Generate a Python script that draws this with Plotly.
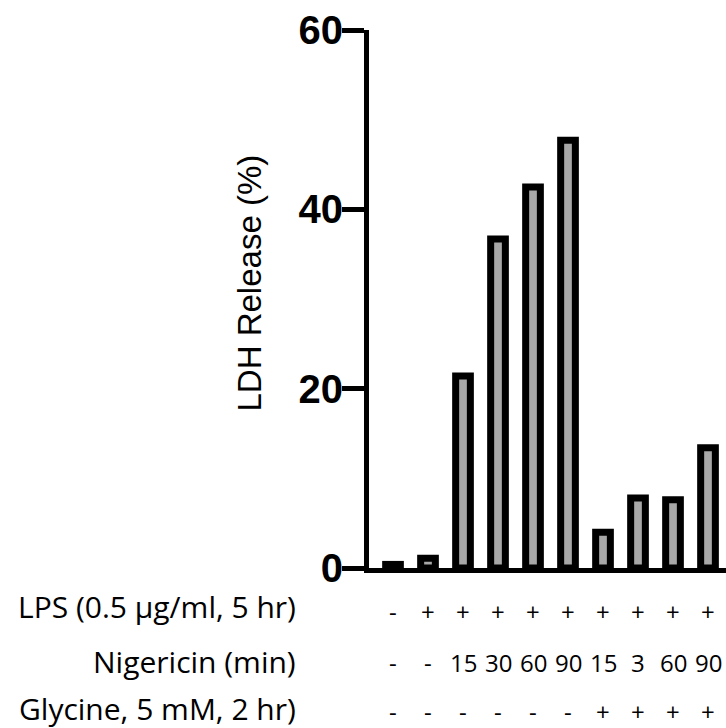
import plotly.graph_objects as go

# ---- data ----
conditions = list(range(10))
ldh_release = [0.4, 1.1, 21.4, 36.7, 42.5, 47.7, 4.0, 7.8, 7.6, 13.4]
lps_row = ['-', '+', '+', '+', '+', '+', '+', '+', '+', '+']
nigericin_row = ['-', '-', '15', '30', '60', '90', '15', '3', '60', '90']
glycine_row = ['-', '-', '-', '-', '-', '-', '+', '+', '+', '+']
row_labels = ['LPS (0.5 \u03bcg/ml, 5 hr)', 'Nigericin (min)', 'Glycine, 5 mM, 2 hr)']
y_ticks = [0, 20, 40, 60]

W, H = 726, 728
L, R, T, B = 369, 0, 30, 160
PW, PH = W - L - R, H - T - B

def px_to_paper_x(px):
    return (px - L) / PW

def px_to_paper_y(py):
    return (H - B - py) / PH

fig = go.Figure()
fig.add_trace(go.Bar(
    x=conditions, y=ldh_release, width=0.42,
    marker=dict(color='#a8a8a8', line=dict(color='black', width=7)),
    showlegend=False, hoverinfo='skip'))

fig.update_layout(
    width=W, height=H,
    margin=dict(l=L, r=R, t=T, b=B, pad=0),
    plot_bgcolor='white', paper_bgcolor='white',
    xaxis=dict(range=[-0.686, 9.514], showline=True, linecolor='black', linewidth=5,
               showticklabels=False, ticks='', showgrid=False, zeroline=False),
    yaxis=dict(range=[0, 60], tickvals=y_ticks, showline=True, linecolor='black', linewidth=5,
               ticks='outside', ticklen=22, tickwidth=5, tickcolor='black',
               ticklabelstandoff=-9,
               tickfont=dict(family='Liberation Sans, Arial', size=40, color='black', weight='bold'),
               showgrid=False, zeroline=False),
)

ann = []
ann.append(dict(text='LDH Release (%)', textangle=-90, xref='paper', yref='paper',
                x=px_to_paper_x(249), y=px_to_paper_y(283.5), xanchor='center', yanchor='middle',
                showarrow=False, font=dict(family='Liberation Sans, Arial', size=33, color='black')))

label_y = [606, 661, 708]
value_y = [611.5, 662.5, 711.5]
rows = [lps_row, nigericin_row, glycine_row]
for lab, ly, vy, row in zip(row_labels, label_y, value_y, rows):
    ann.append(dict(text=lab, xref='paper', yref='paper', x=px_to_paper_x(298), y=px_to_paper_y(ly),
                    xanchor='right', yanchor='middle', showarrow=False,
                    font=dict(family='Open Sans', size=30, color='black')))
    for xi, v in zip(conditions, row):
        ann.append(dict(text=v, xref='x', yref='paper', x=xi, y=px_to_paper_y(vy),
                        xanchor='center', yanchor='middle', showarrow=False,
                        font=dict(family='Open Sans', size=24, color='black')))
fig.update_layout(annotations=ann)

fig.write_html('out.html', config={'displayModeBar': False},
               post_script="document.body.style.margin='0';document.body.style.overflow='hidden';")
